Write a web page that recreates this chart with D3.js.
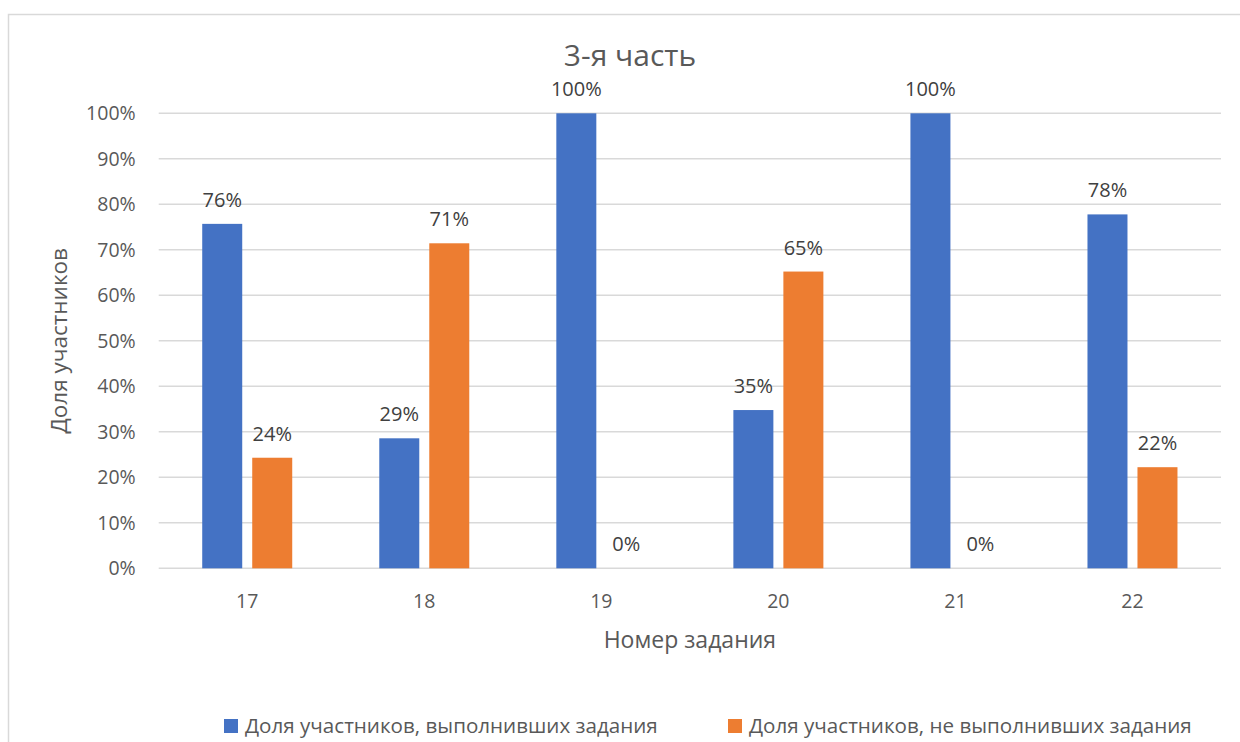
<!DOCTYPE html>
<html>
<head>
<meta charset="utf-8">
<script src="https://cdn.jsdelivr.net/npm/d3@7"></script>
<style>
  html, body { margin: 0; padding: 0; background: #fff; }
  svg { display: block; font-family: "Open Sans", "Noto Sans", sans-serif; }
</style>
</head>
<body>
<svg id="chart" width="1240" height="742"></svg>
<script>
// Task numbers along the x axis
const categories = ["17", "18", "19", "20", "21", "22"];
// Share of participants who solved / did not solve each task
const solved    = [0.757, 0.2857, 1.0, 0.3478, 1.0, 0.7778];
const notSolved = [0.243, 0.7143, 0.0, 0.6522, 0.0, 0.2222];
const seriesNames = [
  "Доля участников, выполнивших задания",
  "Доля участников, не выполнивших задания"
];
const seriesColors = ["#4472c4", "#ed7d31"];
const yTicks = [0, 0.1, 0.2, 0.3, 0.4, 0.5, 0.6, 0.7, 0.8, 0.9, 1.0];

const svg = d3.select("#chart");
const textColor = "#595959";
const gridColor = "#d9d9d9";
const fmt = d3.format(".0%");

// Chart frame (extends past the right/bottom edges of the view)
svg.append("path")
  .attr("d", "M8.5,742 L8.5,14.5 L1240,14.5")
  .attr("fill", "none")
  .attr("stroke", gridColor)
  .attr("stroke-width", 1.5);

const plot = { left: 158.7, right: 1221, top: 113.3, bottom: 568.3 };

const x0 = d3.scaleBand().domain(categories).range([plot.left, plot.right]).padding(0);
const groupWidth = 90;
const x1 = d3.scaleBand().domain(d3.range(2))
  .range([(x0.bandwidth() - groupWidth) / 2, (x0.bandwidth() + groupWidth) / 2])
  .paddingInner(0.2).paddingOuter(0);
const y = d3.scaleLinear().domain([0, 1]).range([plot.bottom, plot.top]);

// Horizontal gridlines
svg.append("g").selectAll("line").data(yTicks).join("line")
  .attr("x1", plot.left).attr("x2", plot.right)
  .attr("y1", d => y(d)).attr("y2", d => y(d))
  .attr("stroke", gridColor).attr("stroke-width", 1.4);

// Y axis tick labels
const yAxis = d3.axisLeft(y).tickValues(yTicks).tickFormat(fmt).tickSize(0).tickPadding(0);
const gy = svg.append("g").attr("transform", `translate(${plot.left - 23},0)`).call(yAxis);
gy.select(".domain").remove();
gy.selectAll("text").attr("fill", textColor).attr("font-size", 19.5)
  .attr("font-family", "'Open Sans', sans-serif").attr("dy", "0.34em");

// X axis category labels
const xAxis = d3.axisBottom(x0).tickSize(0).tickPadding(0);
const gx = svg.append("g").attr("transform", `translate(0,${plot.bottom})`).call(xAxis);
gx.select(".domain").remove();
gx.selectAll("text").attr("fill", textColor).attr("font-size", 19.5)
  .attr("font-family", "'Open Sans', sans-serif").attr("dy", null).attr("y", 39.5);

// Bars
const rows = categories.map((c, i) => ({ cat: c, vals: [solved[i], notSolved[i]] }));
const groups = svg.append("g").selectAll("g").data(rows).join("g")
  .attr("transform", d => `translate(${x0(d.cat)},0)`);

groups.selectAll("rect").data(d => d.vals.map((v, k) => ({ v, k }))).join("rect")
  .attr("x", d => x1(d.k))
  .attr("width", x1.bandwidth())
  .attr("y", d => y(d.v))
  .attr("height", d => y(0) - y(d.v))
  .attr("fill", d => seriesColors[d.k]);

// Value labels above bars
groups.selectAll("text").data(d => d.vals.map((v, k) => ({ v, k }))).join("text")
  .attr("x", d => x1(d.k) + x1.bandwidth() / 2)
  .attr("y", d => y(d.v) - 17)
  .attr("text-anchor", "middle")
  .attr("font-size", 20)
  .attr("fill", "#404040")
  .text(d => fmt(d.v));

// Chart title
svg.append("text")
  .attr("x", 630).attr("y", 66)
  .attr("text-anchor", "middle")
  .attr("font-size", 30)
  .attr("fill", textColor)
  .text("3-я часть");

// Axis titles
svg.append("text")
  .attr("transform", `translate(67,${(plot.top + plot.bottom) / 2}) rotate(-90)`)
  .attr("text-anchor", "middle")
  .attr("font-size", 22.5)
  .attr("fill", textColor)
  .text("Доля участников");

svg.append("text")
  .attr("x", (plot.left + plot.right) / 2).attr("y", 648)
  .attr("text-anchor", "middle")
  .attr("font-size", 23)
  .attr("fill", textColor)
  .text("Номер задания");

// Legend
const legendX = [224, 728];
const legend = svg.append("g").selectAll("g").data(seriesNames).join("g")
  .attr("transform", (d, i) => `translate(${legendX[i]},719)`);
legend.append("rect").attr("width", 14).attr("height", 14)
  .attr("fill", (d, i) => seriesColors[i]);
legend.append("text").attr("x", 21).attr("y", 13.5)
  .attr("font-size", 20.6).attr("fill", textColor)
  .text(d => d);
</script>
</body>
</html>
